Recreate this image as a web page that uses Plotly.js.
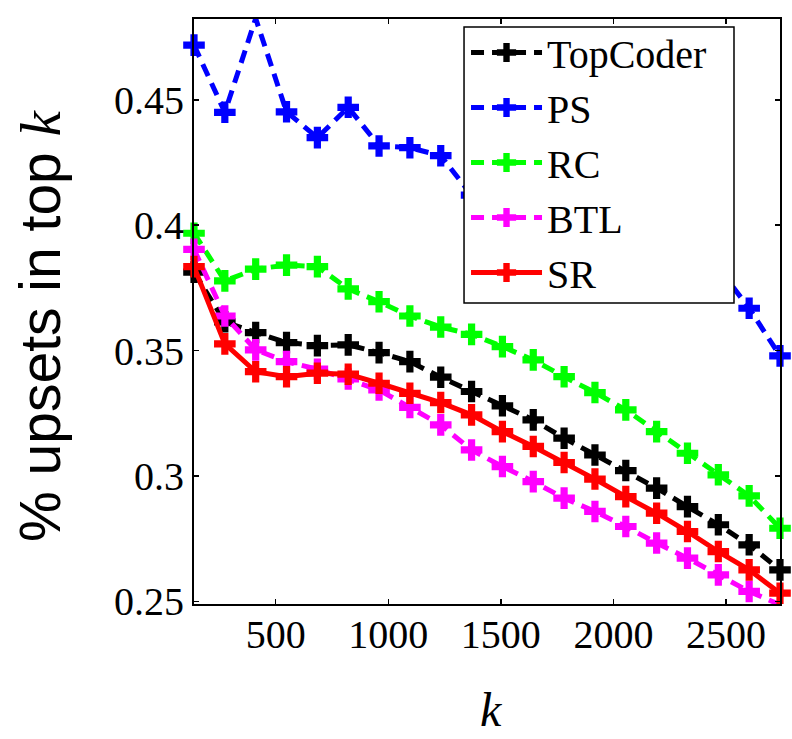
<!DOCTYPE html>
<html>
<head>
<meta charset="utf-8">
<script src="https://cdn.plot.ly/plotly-3.0.1.min.js"></script>
<style>html,body{margin:0;padding:0;background:#fff;}#chart{width:792px;height:739px;}</style>
</head>
<body>
<div id="chart"></div>
<script>
const kValues = [137, 274, 411, 548, 685, 822, 959, 1096, 1233, 1370, 1507, 1644, 1781, 1918, 2055, 2192, 2329, 2466, 2603, 2740];
const topCoder = [0.3813, 0.3615, 0.3572, 0.3532, 0.3520, 0.3523, 0.3492, 0.3456, 0.3394, 0.3337, 0.3280, 0.3224, 0.3151, 0.3084, 0.3022, 0.2952, 0.2878, 0.2806, 0.2726, 0.2626];
const ps = [0.4718, 0.4450, 0.4824, 0.4452, 0.4349, 0.4470, 0.4316, 0.4309, 0.4277, 0.4120, 0.4090, 0.4050, 0.4020, 0.3980, 0.3950, 0.3910, 0.3870, 0.3830, 0.3669, 0.3479];
const rc = [0.3968, 0.3778, 0.3825, 0.3841, 0.3835, 0.3746, 0.3695, 0.3638, 0.3594, 0.3565, 0.3516, 0.3463, 0.3396, 0.3333, 0.3264, 0.3177, 0.3091, 0.3005, 0.2921, 0.2792];
const btl = [0.3904, 0.3638, 0.3503, 0.3456, 0.3426, 0.3387, 0.3343, 0.3274, 0.3204, 0.3104, 0.3038, 0.2978, 0.2912, 0.2859, 0.2799, 0.2733, 0.2673, 0.2606, 0.2540, 0.2487];
const sr = [0.3835, 0.3527, 0.3416, 0.3396, 0.3410, 0.3406, 0.3370, 0.3330, 0.3293, 0.3244, 0.3177, 0.3118, 0.3054, 0.2988, 0.2918, 0.2852, 0.2779, 0.2699, 0.2626, 0.2533];
const seriesNames = ['TopCoder', 'PS', 'RC', 'BTL', 'SR'];
const xTicks = [500, 1000, 1500, 2000, 2500];
const yTicks = [0.25, 0.3, 0.35, 0.4, 0.45];
const yTickText = ['0.25', '0.3', '0.35', '0.4', '0.45'];

const seriesData = [topCoder, ps, rc, btl, sr];
const colors = ['#000000', '#0000ff', '#00ff00', '#ff00ff', '#ff0000'];
const dashes = ['13px,8px', '13px,8px', '13px,8px', '13px,8px', 'solid'];

const traces = seriesNames.map((name, i) => ({
  x: kValues,
  y: seriesData[i],
  name: name,
  type: 'scatter',
  mode: 'lines+markers',
  cliponaxis: false,
  line: {color: colors[i], width: 5, dash: dashes[i]},
  marker: {symbol: 'cross', size: 18, color: colors[i], line: {width: 0}}
}));

const SERIF_FAMILY = 'Liberation Serif';

const layout = {
  width: 792,
  height: 739,
  margin: {l: 194, r: 12, t: 19, b: 135, pad: 0},
  paper_bgcolor: '#ffffff',
  plot_bgcolor: '#ffffff',
  showlegend: true,
  xaxis: {
    range: [137, 2740],
    tickvals: xTicks,
    ticktext: xTicks.map(String),
    ticks: 'inside',
    ticklen: 5,
    tickwidth: 1.5,
    tickcolor: '#000',
    showline: true,
    linecolor: '#000',
    linewidth: 2,
    mirror: 'ticks',
    showgrid: false,
    zeroline: false,
    tickfont: {family: SERIF_FAMILY, size: 40, color: '#000'},
    ticklabelstandoff: -6,
    automargin: false
  },
  yaxis: {
    range: [0.249, 0.4822],
    tickvals: yTicks,
    ticktext: yTickText,
    ticks: 'inside',
    ticklen: 5,
    tickwidth: 1.5,
    tickcolor: '#000',
    showline: true,
    linecolor: '#000',
    linewidth: 2,
    mirror: 'ticks',
    showgrid: false,
    zeroline: false,
    tickfont: {family: SERIF_FAMILY, size: 40, color: '#000'},
    automargin: false
  },
  shapes: [
    {
      type: 'rect', xref: 'paper', yref: 'paper',
      x0: 0.4608, x1: 0.9215, y0: 0.5145, y1: 0.9863,
      line: {color: '#000', width: 1.5},
      fillcolor: '#ffffff',
      layer: 'above'
    }
  ],
  annotations: [
    {
      text: '% upsets in top <span style="font-family:Liberation Serif;font-style:italic">k</span>',
      xref: 'paper', yref: 'paper',
      x: -0.2628, y: 0.477,
      xanchor: 'center', yanchor: 'middle',
      textangle: -90,
      showarrow: false,
      font: {family: 'Liberation Sans', size: 57, color: '#000'}
    },
    {
      text: '<i>k</i>',
      xref: 'paper', yref: 'paper',
      x: 0.507, y: -0.2291,
      xanchor: 'center', yanchor: 'bottom',
      showarrow: false,
      font: {family: SERIF_FAMILY, size: 48, color: '#000'}
    }
  ],
  legend: {
    x: 0.4642,
    y: 0.9983,
    xanchor: 'left',
    yanchor: 'top',
    bgcolor: 'rgba(0,0,0,0)',
    borderwidth: 0,
    font: {family: SERIF_FAMILY, size: 40, color: '#000'},
    itemwidth: 71,
    tracegroupgap: 0
  }
};

Plotly.newPlot('chart', traces, layout, {staticPlot: true, displayModeBar: false});
</script>
</body>
</html>
